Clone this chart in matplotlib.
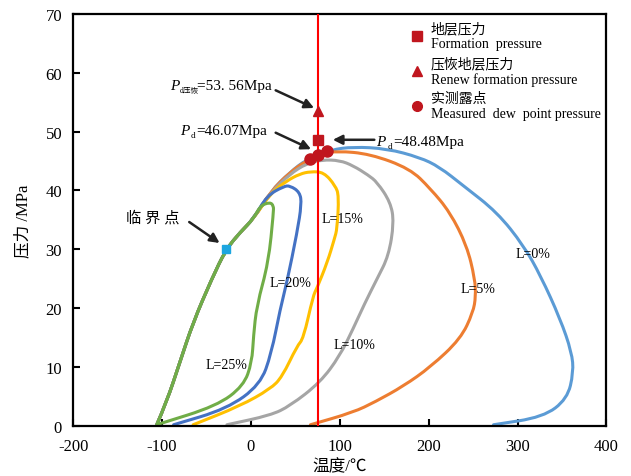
import matplotlib
matplotlib.use("Agg")
import matplotlib.pyplot as plt
from matplotlib.lines import Line2D
from matplotlib.path import Path
from matplotlib.patches import PathPatch

plt.rcParams['font.family'] = ['Liberation Serif', 'Noto Sans CJK SC']
plt.rcParams['axes.unicode_minus'] = False

# shared left (bubble) branch of all envelopes
env_T = [-106, -95, -80, -65, -44, -28, -12, 3]
env_P = [0.2, 4.0, 10.8, 17.6, 25.0, 30.0, 32.9, 35.2]

# each curve continues from the shared branch
l0_T = [22, 44, 63, 90, 115, 153, 190, 212, 239, 277, 307, 326, 348, 361, 363, 356, 329, 273]
l0_P = [39.8, 43.1, 45.3, 46.9, 47.4, 47.1, 45.6, 44.0, 40.8, 36.3, 30.6, 25.5, 18.2, 12.5, 9.1, 4.6, 1.5, 0.2]

l5_T = [22, 44, 63, 80, 97, 134, 179, 202, 224, 243, 252, 253, 250, 236, 202, 172, 140, 115, 67]
l5_P = [39.8, 43.1, 45.1, 46.2, 46.7, 46.2, 43.7, 40.3, 36.3, 30.6, 25.0, 22.0, 19.3, 14.8, 10.0, 6.8, 4.1, 2.3, 0.2]

l10_T = [22, 44, 63, 80, 100, 115, 132, 142, 157, 161, 155, 142, 128, 115, 100, 78, 44, 22, -27]
l10_P = [39.6, 42.8, 44.6, 45.2, 45.1, 44.2, 42.6, 41.4, 38.0, 34.6, 28.9, 25.0, 20.8, 16.5, 11.9, 7.4, 3.4, 1.8, 0.2]

l15_T = [22, 40, 55, 67, 82, 95, 99, 97, 94, 86, 74, 70, 59, 52, 35, 22, -12, -65]
l15_P = [39.5, 41.6, 42.8, 43.2, 43.1, 40.8, 39.1, 33.5, 31.8, 27.8, 23.3, 22.1, 14.8, 13.6, 8.3, 6.3, 3.4, 0.2]

l20_T = [18, 37, 44, 55, 57, 52, 40.5, 33, 23, 10.5, -27, -87]
l20_P = [39.1, 40.7, 40.8, 39.7, 37.7, 32.9, 24.4, 19.9, 12.3, 7.0, 2.9, 0.2]

l25_T = [10.5, 21.4, 25.4, 25.4, 19.8, 6.5, 2.9, 1.1, -8.3, -38.5, -104]
l25_P = [37.4, 38.0, 37.4, 36.3, 27.8, 20.4, 15.3, 10.8, 6.8, 3.4, 0.3]

curve_names = ['L=0%', 'L=5%', 'L=10%', 'L=15%', 'L=20%', 'L=25%']
curve_T = [l0_T, l5_T, l10_T, l15_T, l20_T, l25_T]
curve_P = [l0_P, l5_P, l10_P, l15_P, l20_P, l25_P]
curve_colors = ['#5B9BD5', '#ED7D31', '#A5A5A5', '#FFC000', '#4472C4', '#70AD47']
label_T = [317, 255, 116, 103, 45, -27]
label_P = [29.2, 23.3, 13.8, 35.2, 24.3, 10.4]

res_T = 76
formation_P = 48.48
renew_P = 53.56
dew_T = [66, 76, 86]
dew_P = [45.3, 46.07, 46.7]
crit_T, crit_P = -28.5, 30.0


def smooth_path(xs, ys):
    # quadratic bezier through the midpoints, read points act as control points
    pts = list(zip(xs, ys))
    verts = [pts[0]]
    codes = [Path.MOVETO]
    for i in range(1, len(pts) - 1):
        mid = ((pts[i][0] + pts[i + 1][0]) / 2, (pts[i][1] + pts[i + 1][1]) / 2)
        verts += [pts[i], mid]
        codes += [Path.CURVE3, Path.CURVE3]
    verts.append(pts[-1])
    codes.append(Path.LINETO)
    return Path(verts, codes)


fig = plt.figure(figsize=(6.31, 4.77), dpi=100)
ax = fig.add_axes([0.116, 0.105, 0.845, 0.864])

for T, P, c in zip(curve_T, curve_P, curve_colors):
    ax.add_patch(PathPatch(smooth_path(env_T + T, env_P + P), fill=False, edgecolor=c,
                           lw=2.2, capstyle='round', zorder=2))

for name, x, y in zip(curve_names, label_T, label_P):
    ax.text(x, y, name, fontsize=10, ha='center', va='center', zorder=4)

ax.axvline(res_T, color='red', lw=1.5, zorder=3)

mk = '#C0161E'
ax.plot(res_T, formation_P, 's', color=mk, ms=7, zorder=5)
ax.plot(res_T, renew_P, '^', color=mk, ms=7, zorder=5)
ax.plot(dew_T, dew_P, 'o', color=mk, ms=8, ls='none', zorder=5)
ax.plot(crit_T, crit_P, 's', color='#1CA6E0', ms=6, zorder=5)

arrow = dict(arrowstyle='-|>', color='#222222', lw=1.8, mutation_scale=14)
ax.annotate('', xy=(73.9, 53.8), xytext=(25, 57.2), arrowprops=arrow)
ax.annotate('', xy=(70.5, 46.8), xytext=(25, 50.0), arrowprops=arrow)
ax.annotate('', xy=(89, 48.6), xytext=(142, 48.6), arrowprops=arrow)
ax.annotate('', xy=(-32.7, 30.8), xytext=(-72, 34.9), arrowprops=arrow)

# P labels with Chinese subscripts
ax.text(-91, 57.9, 'P', fontsize=11, style='italic', va='center')
ax.text(-80, 57.1, 'd压恢', fontsize=5.5, va='center')
ax.text(-61, 57.9, '=53. 56Mpa', fontsize=11, va='center')
ax.text(-80, 50.1, 'P', fontsize=11, style='italic', va='center')
ax.text(-67.5, 49.4, 'd', fontsize=6.5, va='center')
ax.text(-61, 50.1, '=46.07Mpa', fontsize=11, va='center')
ax.text(141, 48.25, 'P', fontsize=11, style='italic', va='center')
ax.text(153.5, 47.5, 'd', fontsize=6.5, va='center')
ax.text(160, 48.25, '=48.48Mpa', fontsize=11, va='center')
ax.text(-110.6, 35.5, '临 界 点', fontsize=11, ha='center', va='center')

handles = [Line2D([], [], marker='s', color=mk, ls='none', ms=7),
           Line2D([], [], marker='^', color=mk, ls='none', ms=7),
           Line2D([], [], marker='o', color=mk, ls='none', ms=7)]
labels = ['地层压力\nFormation  pressure', '压恢地层压力\nRenew formation pressure',
          '实测露点\nMeasured  dew  point pressure']
ax.legend(handles, labels, loc='upper left', bbox_to_anchor=(0.616, 1.005), frameon=False,
          fontsize=10, handlelength=0.8, handletextpad=0.6, labelspacing=0.45,
          borderaxespad=0.3)

ax.set_xlim(-200, 400)
ax.set_ylim(0, 70)
ax.set_xticks(range(-200, 401, 100))
ax.set_yticks(range(0, 71, 10))
ax.tick_params(direction='in', length=5, width=1.5, labelsize=12)
ax.tick_params(axis='x', pad=9)
ax.tick_params(axis='y', pad=8)
for s in ax.spines.values():
    s.set_linewidth(1.6)
ax.set_xlabel('温度/℃', fontsize=12, labelpad=3)
ax.set_ylabel('压力 /MPa', fontsize=12, labelpad=10)

fig.savefig('out.png', dpi=100)
